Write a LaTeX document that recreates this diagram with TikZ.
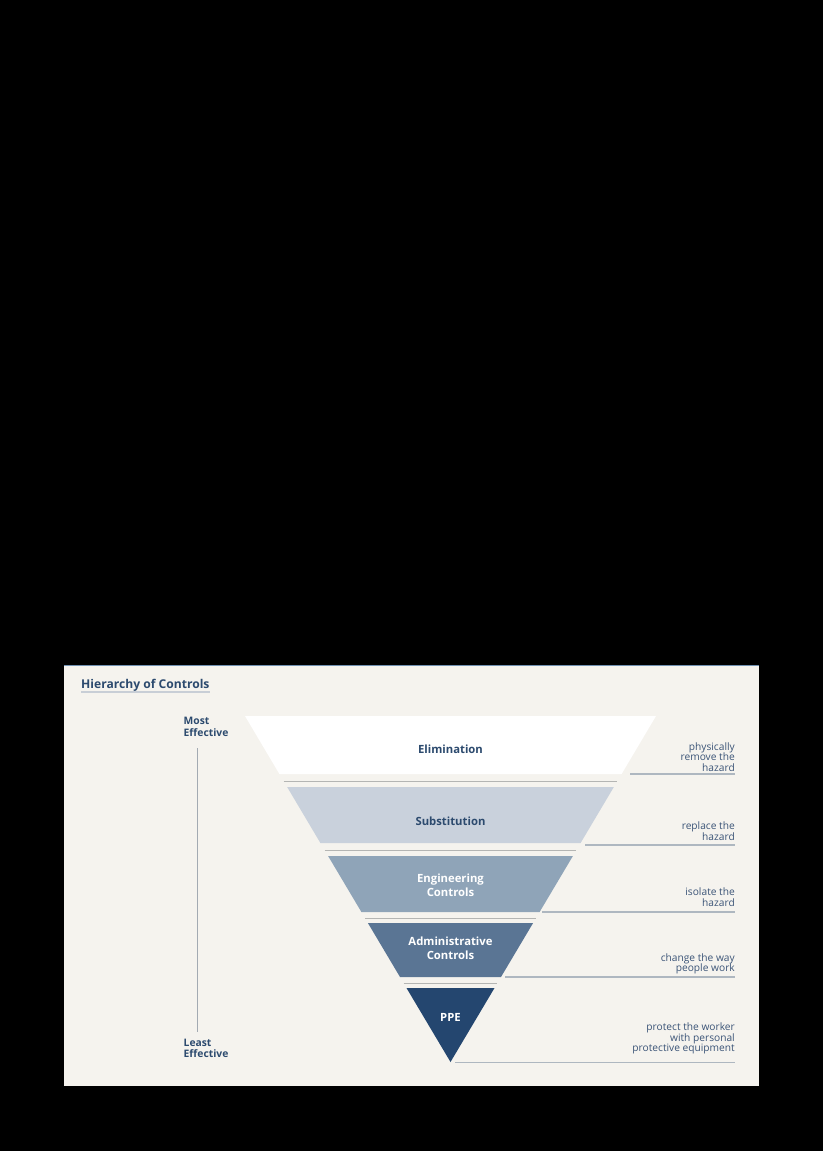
\documentclass[tikz,border=0pt]{standalone}
\usepackage{fontspec}
\setmainfont{Open Sans}
\definecolor{panelbg}{HTML}{F5F3EE}
\definecolor{topline}{HTML}{7090B0}
\definecolor{subcol}{HTML}{C9D1DC}
\definecolor{engcol}{HTML}{8FA4B8}
\definecolor{admcol}{HTML}{5A7594}
\definecolor{ppecol}{HTML}{24466F}
\definecolor{darktext}{HTML}{2C4A6E}
\definecolor{desctext}{HTML}{3B5477}
\definecolor{leadcol}{HTML}{AEB7C0}
\definecolor{sepcol}{HTML}{B4B5B3}
\definecolor{vcol}{HTML}{A3AAB2}
\definecolor{ulcol}{HTML}{C8CED6}
\begin{document}
\begin{tikzpicture}[x=1pt,y=-1pt,
  layerlabel/.style={inner sep=0pt,anchor=base,align=center,font=\bfseries\fontsize{11.3}{14.2}\selectfont},
  desc/.style={inner sep=0pt,anchor=base east,align=right,text=desctext,font=\fontsize{10.2}{10.6}\selectfont},
  sidelabel/.style={inner sep=0pt,anchor=base west,align=left,text=darktext,font=\bfseries\fontsize{10.3}{11.3}\selectfont},
  leader/.style={draw=leadcol,line width=1.1pt},
  sepline/.style={draw=sepcol,line width=1pt}]
\useasboundingbox (0,0) rectangle (823,1151);
\fill[black] (0,0) rectangle (823,1151);
\fill[panelbg] (64,665) rectangle (759,1086);
\draw[topline,line width=1.2pt] (64,665.6) -- (759,665.6);
% title
\node[inner sep=0pt,anchor=base west,text=darktext,font=\bfseries\fontsize{12.1}{14}\selectfont] (title) at (81,688) {Hierarchy of Controls};
\draw[ulcol,line width=1.8pt] (title.west |- 0,692) -- (title.east |- 0,692);
% side labels
\node[sidelabel] (most) at (183.5,736) {Most\\Effective};
\node[sidelabel] (least) at (183.5,1057.3) {Least\\Effective};
\coordinate (vtop) at (197,748);
\coordinate (vbot) at (197,1032);
\draw[vcol,line width=0.9pt] (vtop) -- (vbot);
% layers
\fill[white] (245,716) -- (656,716) -- (621.6,774) -- (279.4,774) -- cycle;
\fill[subcol] (287.15,787) -- (613.85,787) -- (580.6,843) -- (320.4,843) -- cycle;
\fill[engcol] (328.1,856) -- (572.9,856) -- (539.6,912) -- (361.4,912) -- cycle;
\fill[admcol] (367.9,923) -- (533.1,923) -- (501,977) -- (400,977) -- cycle;
\fill[ppecol] (406.5,988) -- (494.5,988) -- (450.5,1062) -- cycle;
% separators
\coordinate (s1a) at (283.6,781); \coordinate (s1b) at (617.4,781);
\coordinate (s2a) at (324.6,850); \coordinate (s2b) at (576.4,850);
\coordinate (s3a) at (365,918);   \coordinate (s3b) at (536,918);
\coordinate (s4a) at (403.6,983); \coordinate (s4b) at (497.4,983);
\draw[sepline] (s1a) -- (s1b);
\draw[sepline] (s2a) -- (s2b);
\draw[sepline] (s3a) -- (s3b);
\draw[sepline] (s4a) -- (s4b);
% layer labels (base = last line)
\node[layerlabel,text=darktext] (elim) at (450.5,753.3) {Elimination};
\node[layerlabel,text=darktext] (subs) at (450.5,825) {Substitution};
\node[layerlabel,text=white] (eng) at (450.5,896.2) {Engineering\\Controls};
\node[layerlabel,text=white] (adm) at (450.5,959.2) {Administrative\\Controls};
\node[layerlabel,text=white] (ppe) at (450.5,1021.7) {PPE};
% descriptions (base = last line)
\node[desc] (d1) at (735,771.5) {physically\\remove the\\hazard};
\node[desc] (d2) at (735,840.2) {replace the\\hazard};
\node[desc] (d3) at (735,906.3) {isolate the\\hazard};
\node[desc] (d4) at (735,971.7) {change the way\\people work};
\node[desc] (d5) at (735,1051.7) {protect the worker\\with personal\\protective equipment};
% leaders
\coordinate (l1a) at (630,774);  \coordinate (l1b) at (735,774);
\coordinate (l2a) at (585,845);  \coordinate (l2b) at (735,845);
\coordinate (l3a) at (542,912);  \coordinate (l3b) at (735,912);
\coordinate (l4a) at (505,977);  \coordinate (l4b) at (735,977);
\coordinate (l5a) at (455,1062.5); \coordinate (l5b) at (735,1062.5);
\draw[leader] (l1a) -- (l1b);
\draw[leader] (l2a) -- (l2b);
\draw[leader] (l3a) -- (l3b);
\draw[leader] (l4a) -- (l4b);
\draw[leader] (l5a) -- (l5b);
\end{tikzpicture}
\end{document}
